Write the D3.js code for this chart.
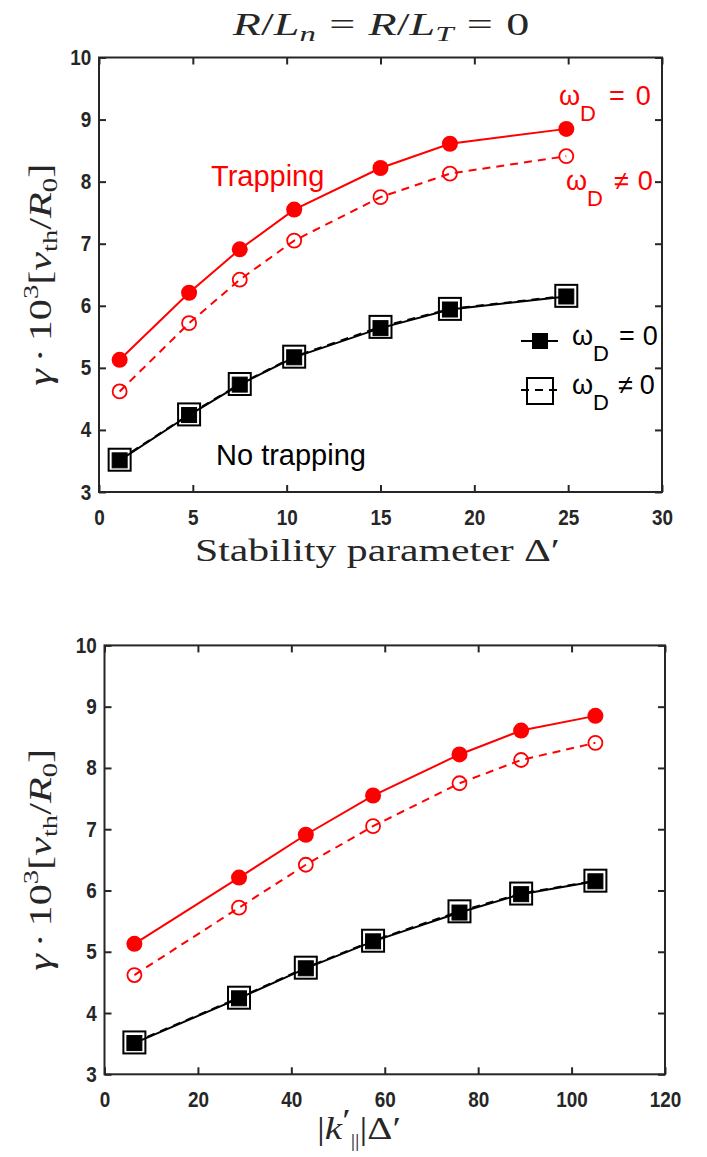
<!DOCTYPE html>
<html>
<head>
<meta charset="utf-8">
<script src="https://cdn.jsdelivr.net/npm/d3@7"></script>
<style>
  body { margin: 0; background: #fff; }
  svg { display: block; }
  .tick text { font-family: "Liberation Sans", Arial, sans-serif; font-weight: bold; font-size: 22px; fill: #262626; }
  .math { font-family: "Liberation Serif", "Times New Roman", serif; fill: #262626; }
  .note { font-family: "Liberation Sans", Arial, sans-serif; }
</style>
</head>
<body>
<svg id="fig" width="707" height="1157"></svg>
<script>
// x values for the two panels
const deltaPrime = [1.1, 4.8, 7.5, 10.4, 15.0, 18.7, 24.9];
const kParDelta = [6.4, 28.8, 43.1, 57.5, 76.0, 89.2, 105.1];

// growth rates gamma * 10^3 [v_th / R0]
const gammaTrapNoDrift = [5.13, 6.21, 6.91, 7.55, 8.22, 8.61, 8.85];
const gammaTrapDrift = [4.62, 5.72, 6.42, 7.05, 7.75, 8.13, 8.41];
const gammaNoTrapNoDrift = [3.51, 4.24, 4.73, 5.17, 5.64, 5.94, 6.15];
const gammaNoTrapDrift = [3.52, 4.25, 4.74, 5.18, 5.66, 5.95, 6.16];

const xTicksTop = [0, 5, 10, 15, 20, 25, 30];
const xTicksBottom = [0, 20, 40, 60, 80, 100, 120];
const yTicks = [3, 4, 5, 6, 7, 8, 9, 10];

const AXIS = "#262626";
const RED = "#ff0000";
const DASH = "8,6";
const svg = d3.select("#fig");

// stretch a text horizontally so it spans the given width (LaTeX fonts run wider than Times)
function fitWidth(sel, cx, width, base) {
  const bb = sel.node().getBBox();
  const k = width / bb.width;
  const pre = base || `translate(${cx},0)`;
  sel.attr("transform", `${pre} scale(${k},1) translate(${base ? 0 : -cx},0)`);
}

function drawMarker(g, kind, cx, cy) {
  if (kind === "filledSquare") {
    g.append("rect").attr("x", cx - 7.5).attr("y", cy - 7.5).attr("width", 15).attr("height", 15)
      .attr("fill", "#000").attr("stroke", "#000").attr("stroke-width", 1);
  } else if (kind === "openSquare") {
    g.append("rect").attr("x", cx - 11).attr("y", cy - 11).attr("width", 22).attr("height", 22)
      .attr("fill", "none").attr("stroke", "#000").attr("stroke-width", 2);
  } else if (kind === "filledCircle") {
    g.append("circle").attr("cx", cx).attr("cy", cy).attr("r", 8).attr("fill", RED);
  } else {
    g.append("circle").attr("cx", cx).attr("cy", cy).attr("r", 7)
      .attr("fill", "none").attr("stroke", RED).attr("stroke-width", 1.8);
  }
}

function drawPanel(opts) {
  const x = d3.scaleLinear().domain([opts.xTicks[0], opts.xTicks[opts.xTicks.length - 1]]).range(opts.xRange);
  const y = d3.scaleLinear().domain([3, 10]).range(opts.yRange);
  const g = svg.append("g");

  const series = [
    { ys: gammaNoTrapDrift, color: "#000", dash: DASH, marker: "openSquare" },
    { ys: gammaNoTrapNoDrift, color: "#000", dash: null, marker: "filledSquare" },
    { ys: gammaTrapDrift, color: RED, dash: DASH, marker: "openCircle" },
    { ys: gammaTrapNoDrift, color: RED, dash: null, marker: "filledCircle" }
  ];

  const line = d3.line().x(d => x(d[0])).y(d => y(d[1]));

  series.forEach(s => {
    const pts = opts.xs.map((v, i) => [v, s.ys[i]]);
    g.append("path").attr("d", line(pts)).attr("fill", "none")
      .attr("stroke", s.color).attr("stroke-width", 2)
      .attr("stroke-dasharray", s.dash);
    pts.forEach(p => drawMarker(g, s.marker, x(p[0]), y(p[1])));
  });

  // axes, ticks pointing inward on all sides
  const y0 = y(3), y1 = y(10), x0 = opts.xRange[0], x1 = opts.xRange[1];
  g.append("g").attr("transform", `translate(0,${y0})`)
    .call(d3.axisBottom(x).tickValues(opts.xTicks).tickSizeInner(-7).tickSizeOuter(0).tickPadding(17).tickFormat(d3.format("d")))
    .call(a => a.select(".domain").remove())
    .call(a => a.selectAll(".tick text").attr("transform", "scale(0.86,1)"));
  g.append("g").attr("transform", `translate(0,${y1})`)
    .call(d3.axisTop(x).tickValues(opts.xTicks).tickSizeInner(-7).tickSizeOuter(0).tickFormat(""))
    .call(a => a.select(".domain").remove());
  g.append("g").attr("transform", `translate(${x0},0)`)
    .call(d3.axisLeft(y).tickValues(yTicks).tickSizeInner(-7).tickSizeOuter(0).tickPadding(9).tickFormat(d3.format("d")))
    .call(a => a.select(".domain").remove())
    .call(a => a.selectAll(".tick text").attr("transform", "scale(0.86,1)"));
  g.append("g").attr("transform", `translate(${x1},0)`)
    .call(d3.axisRight(y).tickValues(yTicks).tickSizeInner(-7).tickSizeOuter(0).tickFormat(""))
    .call(a => a.select(".domain").remove());
  g.selectAll(".tick line").attr("stroke", AXIS).attr("stroke-width", 2);

  g.append("rect").attr("x", x0).attr("y", y1).attr("width", x1 - x0).attr("height", y0 - y1)
    .attr("fill", "none").attr("stroke", AXIS).attr("stroke-width", 2);

  // y label
  const yl = g.append("text").attr("class", "math").attr("font-size", 31)
    .attr("text-anchor", "middle");
  yl.append("tspan").attr("font-style", "italic").text("γ");
  yl.append("tspan").attr("dx", 5).text("·");
  yl.append("tspan").attr("dx", 5).text("10");
  yl.append("tspan").attr("font-size", 21).attr("dy", -13).text("3");
  yl.append("tspan").attr("dy", 13).text("[");
  yl.append("tspan").attr("font-style", "italic").text("v");
  yl.append("tspan").attr("font-size", 21).attr("dy", 6).text("th");
  yl.append("tspan").attr("dy", -6).text("/");
  yl.append("tspan").attr("font-style", "italic").text("R");
  yl.append("tspan").attr("font-size", 21).attr("dy", 6).text("0");
  yl.append("tspan").attr("dy", -6).text("]");
  fitWidth(yl, 0, 222, `translate(51,${(y0 + y1) / 2}) rotate(-90)`);

  return { g, x, y };
}

// top panel
const topPanel = drawPanel({ xs: deltaPrime, xTicks: xTicksTop, xRange: [99, 662], yRange: [492, 57.5] });
// bottom panel
const bottomPanel = drawPanel({ xs: kParDelta, xTicks: xTicksBottom, xRange: [104.5, 665], yRange: [1074.3, 645.4] });

// title
const title = svg.append("text").attr("class", "math").attr("font-size", 31)
  .attr("x", 381).attr("y", 35).attr("text-anchor", "middle");
title.append("tspan").attr("font-style", "italic").text("R");
title.append("tspan").text("/");
title.append("tspan").attr("font-style", "italic").text("L");
title.append("tspan").attr("font-style", "italic").attr("font-size", 22).attr("dy", 6).text("n");
title.append("tspan").attr("dy", -6).attr("dx", 9).text("=");
title.append("tspan").attr("dx", 9).attr("font-style", "italic").text("R");
title.append("tspan").text("/");
title.append("tspan").attr("font-style", "italic").text("L");
title.append("tspan").attr("font-style", "italic").attr("font-size", 22).attr("dy", 6).text("T");
title.append("tspan").attr("dy", -6).attr("dx", 9).text("=");
title.append("tspan").attr("dx", 9).text("0");
fitWidth(title, 381, 298);

// x labels
const sl = svg.append("text").attr("class", "math").attr("font-size", 31)
  .attr("x", 377.5).attr("y", 561).attr("text-anchor", "middle")
  .text("Stability parameter Δ′");
fitWidth(sl, 377.5, 365);

const xl = svg.append("text").attr("class", "math").attr("font-size", 32)
  .attr("x", 359).attr("y", 1139).attr("text-anchor", "middle");
xl.append("tspan").text("|");
xl.append("tspan").attr("font-style", "italic").text("k");
xl.append("tspan").attr("dy", -8).text("′");
xl.append("tspan").attr("font-size", 18).attr("dy", 16).text("||");
xl.append("tspan").attr("dy", -8).text("|Δ′");
fitWidth(xl, 359, 84);

// annotations in the top panel
function omegaLabel(x, yBase, rel, color, gap) {
  const t = svg.append("text").attr("class", "note").attr("x", x).attr("y", yBase)
    .attr("fill", color).attr("font-size", 27);
  t.append("tspan").text("ω");
  t.append("tspan").attr("font-size", 22).attr("dy", 16).text("D");
  t.append("tspan").attr("dy", -16).attr("dx", gap).text(rel);
  t.append("tspan").attr("dx", gap - 2).text("0");
}

svg.append("text").attr("class", "note").attr("x", 211).attr("y", 186).attr("fill", RED)
  .attr("font-size", 29).text("Trapping");
svg.append("text").attr("class", "note").attr("x", 216).attr("y", 465).attr("fill", "#000")
  .attr("font-size", 29).text("No trapping");

omegaLabel(559, 105, "=", RED, 13);
omegaLabel(566, 190, "≠", RED, 11);

// legend for the black series
const lg = svg.append("g");
lg.append("line").attr("x1", 521).attr("x2", 558).attr("y1", 341).attr("y2", 341)
  .attr("stroke", "#000").attr("stroke-width", 2);
drawMarker(lg, "filledSquare", 540, 341);
lg.append("line").attr("x1", 521).attr("x2", 558).attr("y1", 390).attr("y2", 390)
  .attr("stroke", "#000").attr("stroke-width", 2).attr("stroke-dasharray", DASH);
lg.append("rect").attr("x", 527).attr("y", 378).attr("width", 26).attr("height", 26)
  .attr("fill", "none").attr("stroke", "#000").attr("stroke-width", 2);
omegaLabel(572, 345, "=", "#000", 10);
omegaLabel(572, 394, "≠", "#000", 9);
</script>
</body>
</html>
